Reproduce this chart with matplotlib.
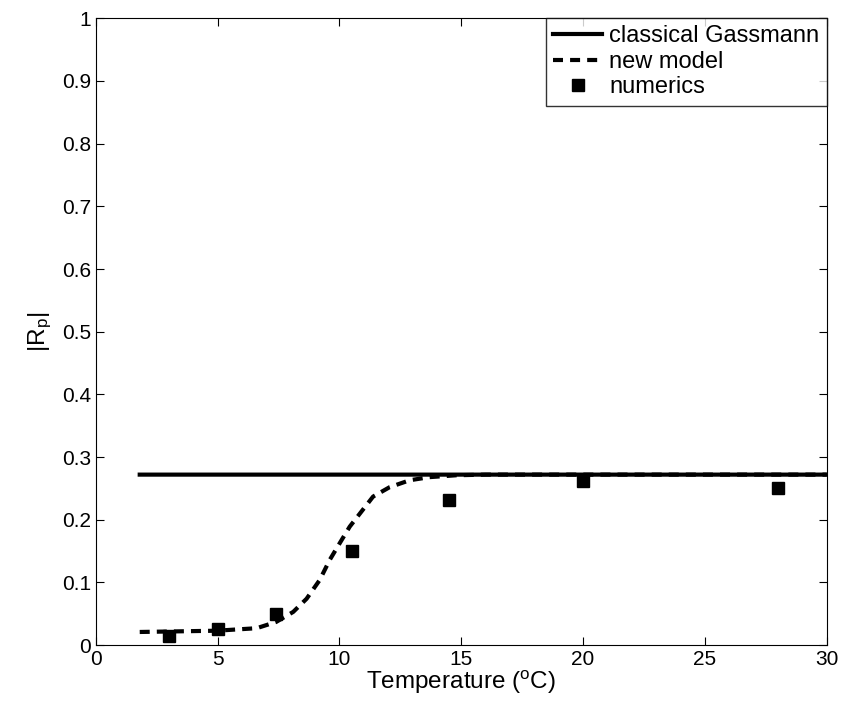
import matplotlib
matplotlib.use("Agg")
import matplotlib.pyplot as plt

plt.rcParams['font.family'] = ['Liberation Sans', 'DejaVu Sans']
plt.rcParams['mathtext.default'] = 'regular'

# classical Gassmann level
gassmann_x = [1.8, 30.0]
gassmann_y = [0.272, 0.272]

# new model curve
model_x = [1.8, 4.95, 6.6, 7.4, 8.1, 8.65, 9.19, 9.6, 10.0, 10.42, 10.9,
           11.38, 12.06, 12.88, 13.7, 14.8, 16.0, 20.0, 30.0]
model_y = [0.021, 0.023, 0.027, 0.037, 0.053, 0.074, 0.104, 0.136, 0.162, 0.189, 0.213,
           0.237, 0.252, 0.263, 0.268, 0.271, 0.272, 0.272, 0.272]

# numerical results
num_x = [3.0, 5.0, 7.4, 10.5, 14.5, 20.0, 28.0]
num_y = [0.015, 0.025, 0.05, 0.15, 0.231, 0.262, 0.25]

fig = plt.figure(figsize=(8.41, 7.02), dpi=100)
ax = fig.add_axes([0.114, 0.081, 0.869, 0.893])

ax.plot(gassmann_x, gassmann_y, color='black', lw=3, snap=False, label='classical Gassmann')
ax.plot(model_x, model_y, color='black', lw=3, dashes=(2.4, 1.7), snap=False, label='new model')
ax.plot(num_x, num_y, 's', color='black', ms=8, label='numerics')

ax.set_xlim(0, 30)
ax.set_ylim(0, 1)
ax.set_xticks([0, 5, 10, 15, 20, 25, 30])
ax.set_yticks([i / 10 for i in range(11)])
ax.set_yticklabels(['0', '0.1', '0.2', '0.3', '0.4', '0.5', '0.6', '0.7', '0.8', '0.9', '1'])
ax.tick_params(direction='in', top=True, right=True, labelsize=15, length=6)

ax.set_xlabel('Temperature ($^{o}$C)', fontsize=17.5, labelpad=0)
ax.set_ylabel('$|R_p|$', fontsize=17.5, labelpad=6)

leg = ax.legend(loc='upper right', fontsize=17, fancybox=False, edgecolor='black',
                borderaxespad=0, handlelength=2.1, handletextpad=0.3, borderpad=0.3,
                labelspacing=0.15)
leg.get_frame().set_linewidth(1)

fig.savefig('out.png', dpi=100)
